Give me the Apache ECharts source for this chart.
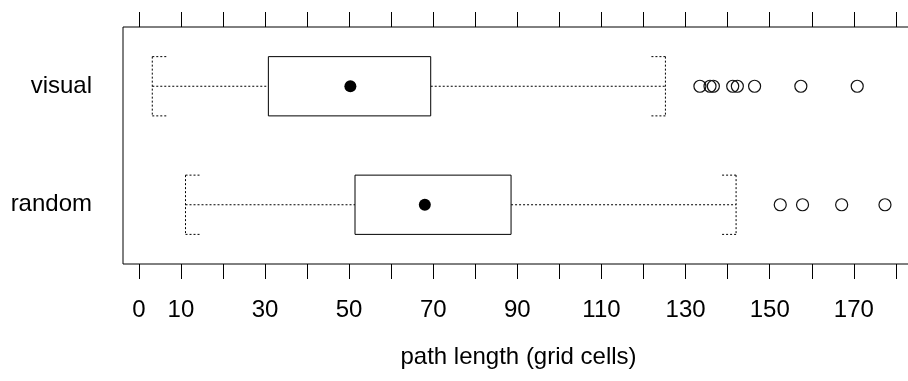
<!DOCTYPE html>
<html>
<head>
<meta charset="utf-8">
<script src="https://cdn.jsdelivr.net/npm/echarts@6/dist/echarts.min.js"></script>
<style>
  html, body { margin: 0; padding: 0; background: #fff; }
  #chart { width: 908px; height: 381px; }
</style>
</head>
<body>
<div id="chart"></div>
<script>
// groups, bottom to top
var groups = ['random', 'visual'];
// [low whisker, q1, median, q3, high whisker]
var randomBox = [11.1, 51.4, 68.0, 88.5, 142.0];
var visualBox = [3.2, 30.8, 50.3, 69.4, 125.2];
var randomOutliers = [152.5, 157.8, 167.1, 177.4];
var visualOutliers = [133.4, 135.8, 136.6, 141.2, 142.3, 146.4, 157.4, 170.8];
var tickValues = [0, 10, 20, 30, 40, 50, 60, 70, 80, 90, 100, 110, 120, 130, 140, 150, 160, 170, 180];
var labelValues = [0, 10, 30, 50, 70, 90, 110, 130, 150, 170];

var FONT = 'Liberation Sans, Arial, sans-serif';
var boxes = [randomBox, visualBox];

var boxData = boxes.map(function (b, i) {
  return [i].concat(b);
});
var medianData = boxes.map(function (b, i) {
  return [b[2], i];
});
var outlierData = [];
randomOutliers.forEach(function (v) { outlierData.push([v, 0]); });
visualOutliers.forEach(function (v) { outlierData.push([v, 1]); });

function renderBox(params, api) {
  var cat = api.value(0);
  var pLow = api.coord([api.value(1), cat]);
  var pQ1 = api.coord([api.value(2), cat]);
  var pQ3 = api.coord([api.value(4), cat]);
  var pHigh = api.coord([api.value(5), cat]);
  var h = api.size([0, 1])[1] * 0.5;
  var y = pLow[1];
  var top = y - h / 2, bot = y + h / 2;
  var cap = 14;
  var dotted = { stroke: '#000', lineWidth: 1, lineDash: [2, 2], fill: null };
  var solid = { stroke: '#000', lineWidth: 1, fill: '#fff' };
  function seg(x1, y1, x2, y2) {
    return { type: 'line', shape: { x1: x1, y1: y1, x2: x2, y2: y2 }, style: dotted };
  }
  return {
    type: 'group',
    children: [
      seg(pLow[0], y, pQ1[0], y),
      seg(pQ3[0], y, pHigh[0], y),
      seg(pLow[0], top, pLow[0], bot),
      seg(pLow[0], top, pLow[0] + cap, top),
      seg(pLow[0], bot, pLow[0] + cap, bot),
      seg(pHigh[0], top, pHigh[0], bot),
      seg(pHigh[0], top, pHigh[0] - cap, top),
      seg(pHigh[0], bot, pHigh[0] - cap, bot),
      { type: 'rect', shape: { x: pQ1[0], y: top, width: pQ3[0] - pQ1[0], height: h }, style: solid }
    ]
  };
}

var chart = echarts.init(document.getElementById('chart'));
chart.setOption({
  animation: false,
  grid: {
    left: 123, top: 27, width: 791, height: 237,
    show: true, borderColor: '#000', borderWidth: 1, backgroundColor: 'transparent',
    containLabel: false, outerBoundsMode: 'none'
  },
  xAxis: [
    {
      type: 'value', position: 'bottom', min: -3.76, max: 184.3,
      splitLine: { show: false },
      axisLine: { show: false },
      axisTick: { show: true, customValues: tickValues, length: 15, lineStyle: { color: '#000' } },
      axisLabel: { show: true, customValues: labelValues, margin: 34, fontSize: 24, color: '#000', fontFamily: FONT },
      name: 'path length (grid cells)', nameLocation: 'middle', nameGap: 81,
      nameTextStyle: { fontSize: 24, color: '#000', fontFamily: FONT }
    },
    {
      type: 'value', position: 'top', min: -3.76, max: 184.3,
      splitLine: { show: false },
      axisLine: { show: false },
      axisTick: { show: true, customValues: tickValues, length: 15, lineStyle: { color: '#000' } },
      axisLabel: { show: false }
    }
  ],
  yAxis: {
    type: 'category', data: groups,
    axisLine: { show: false }, axisTick: { show: false }, splitLine: { show: false },
    axisLabel: { margin: 31, fontSize: 24, color: '#000', fontFamily: FONT }
  },
  series: [
    {
      type: 'custom', renderItem: renderBox, data: boxData,
      encode: { x: [1, 2, 3, 4, 5], y: 0 }, z: 2
    },
    {
      type: 'scatter', data: medianData, symbol: 'circle', symbolSize: 12,
      itemStyle: { color: '#000', opacity: 1 }, z: 3
    },
    {
      type: 'scatter', data: outlierData, symbol: 'circle', symbolSize: 12,
      itemStyle: { color: 'rgba(0,0,0,0)', borderColor: '#111', borderWidth: 1.2, opacity: 1 }, z: 3
    }
  ]
});
</script>
</body>
</html>
